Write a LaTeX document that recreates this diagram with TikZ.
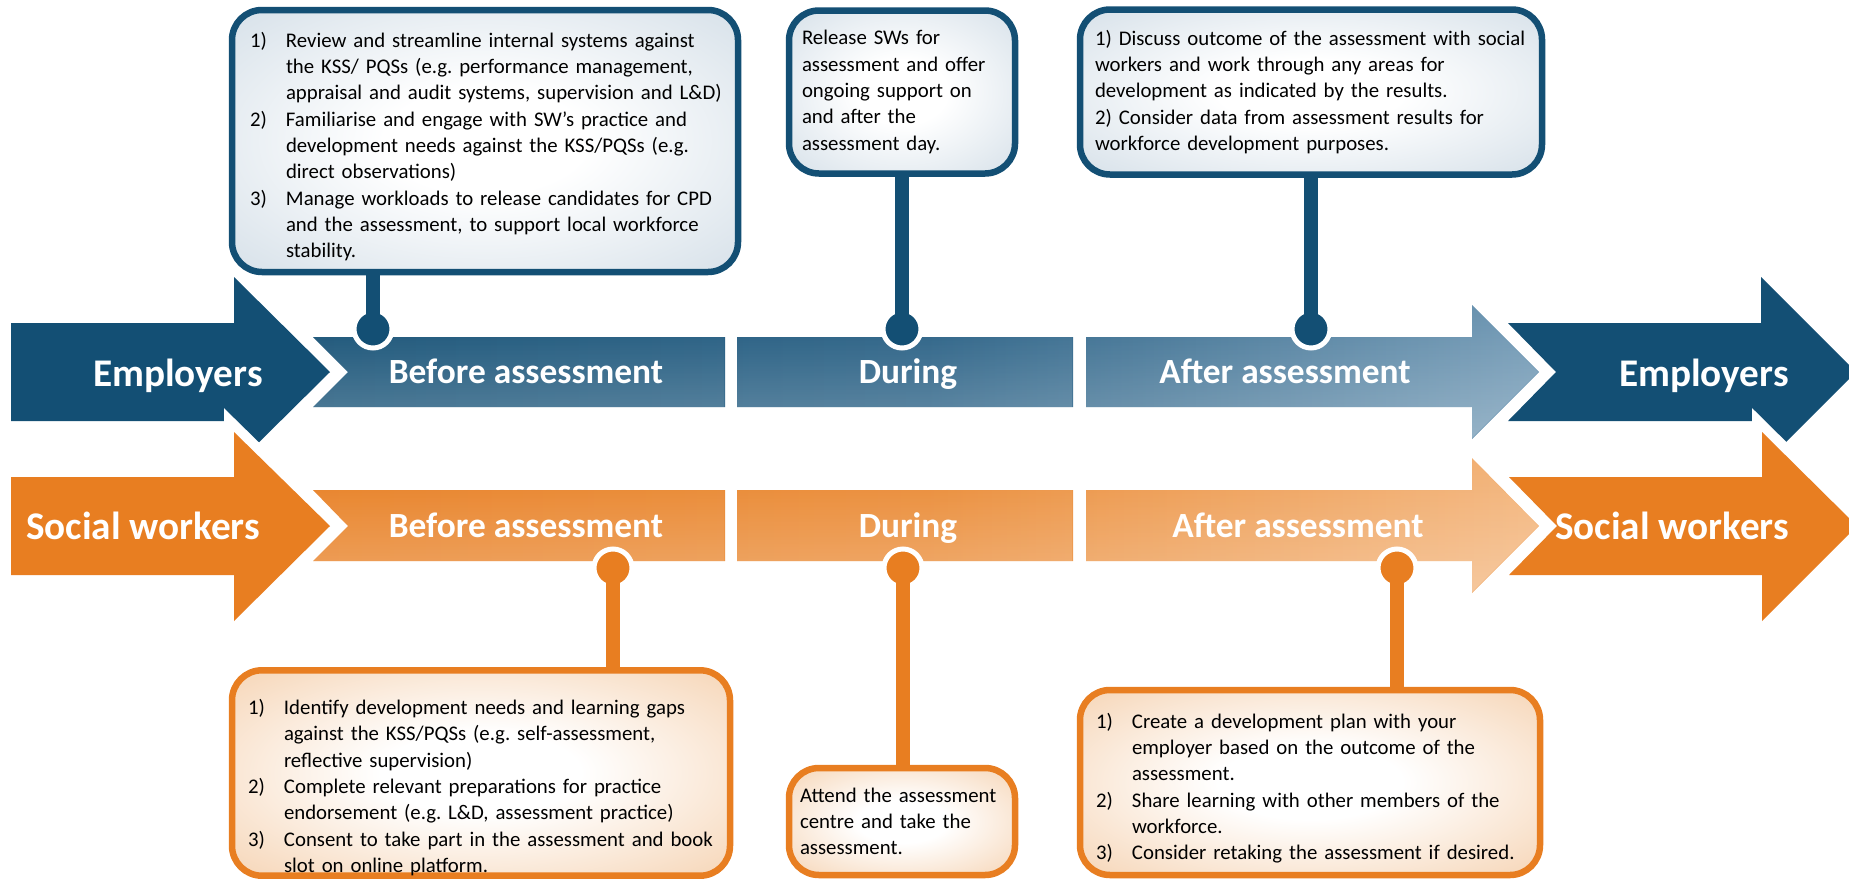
\documentclass[tikz,border=0pt]{standalone}
\usepackage{fontspec}
\setmainfont{Carlito}
\usetikzlibrary{positioning,fadings}

\definecolor{navy}{RGB}{19,79,116}
\definecolor{navymid}{RGB}{38,94,131}
\definecolor{navylight}{RGB}{112,152,180}
\definecolor{orng}{RGB}{232,126,33}
\definecolor{orngmid}{RGB}{234,138,52}
\definecolor{ornglight}{RGB}{243,180,122}
\definecolor{boxblue}{RGB}{192,208,221}
\definecolor{boxpeach}{RGB}{241,190,142}

\pgfdeclareradialshading{glowE}{\pgfpoint{0bp}{0bp}}{color(0bp)=(white); color(10bp)=(white); color(50bp)=(boxblue); color(75bp)=(boxblue)}
\pgfdeclareradialshading{glowS}{\pgfpoint{0bp}{0bp}}{color(0bp)=(white); color(10bp)=(white); color(50bp)=(boxpeach); color(75bp)=(boxpeach)}

\newdimen\px \px=0.5pt
\newcommand{\numitem}[2]{\par\noindent\hangindent=36\px\hangafter=1\makebox[36\px][l]{#1}#2\par}

\begin{document}
\frenchspacing\hyphenpenalty=10000
\begin{tikzpicture}[x=1\px, y=-1\px,
    arrowE/.style={fill=navy},
    arrowS/.style={fill=orng, preaction={draw=white, line width=20\px}},
    bandE/.style={left color=navy, right color=navylight, middle color=navymid,
        postaction={fill=white, fill opacity=0.3, path fading=north}},
    bandS/.style={left color=orng, right color=ornglight, middle color=orngmid,
        postaction={fill=white, fill opacity=0.3, path fading=north}},
    sidelabel/.style={anchor=base, text=white, font=\fontsize{19.6pt}{23pt}\selectfont\bfseries},
    bandlabel/.style={anchor=base, text=white, font=\fontsize{17.7pt}{21pt}\selectfont\bfseries},
    boxE/.style={draw=navy, line width=6.5\px, rounded corners=15pt, shade, shading=glowE,
        align=left, inner sep=0pt, font=\fontsize{10.4pt}{13.15pt}\selectfont,
        execute at begin node={\rightskip=0pt plus 1fil minus 15pt\relax}},
    boxS/.style={draw=orng, line width=6.5\px, rounded corners=15pt, shade, shading=glowS,
        align=left, inner sep=0pt, font=\fontsize{10.4pt}{13.15pt}\selectfont,
        execute at begin node={\rightskip=0pt plus 1fil minus 15pt\relax}},
    dotE/.style={circle, fill=navy, draw=white, line width=5\px, minimum size=38\px, inner sep=0pt},
    dotS/.style={circle, fill=orng, draw=white, line width=5\px, minimum size=38\px, inner sep=0pt},
    stemE/.style={draw=navy, line width=14.5\px},
    stemS/.style={draw=orng, line width=14.5\px}]
\useasboundingbox (0,0) rectangle (1849,879);
\clip (0,0) rectangle (1849,879);

% arrows on the left
\path[arrowE] (11,323) -- (234,323) -- (234,277) -- (330,372) -- (234,467) -- (234,421) -- (11,421) -- cycle;
\path[arrowS] (11,477) -- (234,477) -- (234,432) -- (330,526) -- (234,621) -- (234,575) -- (11,575) -- cycle;

% stages
\path[bandE] (313,337) -- (725,337) -- (725,407) -- (313,407) -- (348,372) -- cycle
    (737,337) rectangle (1073,407)
    (1086,337) -- (1472,337) -- (1472,305) -- (1539,372) -- (1472,439) -- (1472,407) -- (1086,407) -- cycle;
\path[bandS] (313,490) -- (725,490) -- (725,561) -- (313,561) -- (348,526) -- cycle
    (737,490) rectangle (1073,561)
    (1086,490) -- (1472,490) -- (1472,458) -- (1539,526) -- (1472,593) -- (1472,561) -- (1086,561) -- cycle;

% arrows on the right
\path[arrowE] (1508,323) -- (1761,323) -- (1761,277) -- (1856,372) -- (1761,467) -- (1761,421) -- (1508,421) -- (1556,372) -- cycle;
\path[arrowS] (1509,477) -- (1762,477) -- (1762,432) -- (1857,526) -- (1762,621) -- (1762,575) -- (1509,575) -- (1557,526) -- cycle;

\node[sidelabel] (empL) at (178,386) {Employers};
\node[sidelabel] (swL) at (143,539) {Social workers};
\node[sidelabel] (empR) at (1704,386) {Employers};
\node[sidelabel] (swR) at (1672,539) {Social workers};

\node[bandlabel] (befE) at (526,383) {Before assessment};
\node[bandlabel] (durE) at (908,383) {During};
\node[bandlabel] (aftE) at (1285,383) {After assessment};
\node[bandlabel] (befS) at (526,537) {Before assessment};
\node[bandlabel] (durS) at (908,537) {During};
\node[bandlabel] (aftS) at (1298,537) {After assessment};

% employer boxes
\node[boxE, minimum width=506\px, minimum height=262\px, text width=470\px] (befEbox) at (485,141) {%
  \numitem{1)}{Review and streamline internal systems against\newline the KSS/ PQSs (e.g. performance management,\newline appraisal and audit systems, supervision and L\&D)}
  \numitem{2)}{Familiarise and engage with SW’s practice and\newline development needs against the KSS/PQSs (e.g.\newline direct observations)}
  \numitem{3)}{Manage workloads to release candidates for CPD\newline and the assessment, to support local workforce\newline stability.}};
\node[boxE, minimum width=226\px, minimum height=163\px, text width=200\px] (durEbox) at (902,92) {%
  Release SWs for\newline assessment and offer\newline ongoing support on\newline and after the\newline assessment day.};
\node[boxE, minimum width=462\px, minimum height=165\px, text width=432\px] (aftEbox) at (1311,92) {%
  1) Discuss outcome of the assessment with social\newline workers and work through any areas for\newline development as indicated by the results.\newline
  2) Consider data from assessment results for\newline workforce development purposes.};

% social worker boxes
\node[boxS, minimum width=498\px, minimum height=204\px, text width=466\px] (befSbox) at (481,773) {%
  \vspace*{18\px}
  \numitem{1)}{Identify development needs and learning gaps\newline against the KSS/PQSs (e.g. self-assessment,\newline reflective supervision)}
  \numitem{2)}{Complete relevant preparations for practice\newline endorsement (e.g. L\&D, assessment practice)}
  \numitem{3)}{Consent to take part in the assessment and book\newline slot on online platform.}};
\node[boxS, minimum width=226\px, minimum height=107\px, text width=204\px] (durSbox) at (902,821.5) {%
  Attend the assessment\newline centre and take the\newline assessment.};
\node[boxS, minimum width=460\px, minimum height=185\px, text width=428\px] (aftSbox) at (1310,782.5) {%
  \numitem{1)}{Create a development plan with your\newline employer based on the outcome of the\newline assessment.}
  \numitem{2)}{Share learning with other members of the\newline workforce.}
  \numitem{3)}{Consider retaking the assessment if desired.}};

% pins
\node[dotE] (befEdot) at (373,329) {};
\node[dotE] (durEdot) at (902,329) {};
\node[dotE] (aftEdot) at (1311,329) {};
\draw[stemE] (befEdot.center) -- (befEdot.center |- befEbox.south);
\draw[stemE] (durEdot.center) -- (durEdot.center |- durEbox.south);
\draw[stemE] (aftEdot.center) -- (aftEdot.center |- aftEbox.south);

\node[dotS] (befSdot) at (613,568) {};
\node[dotS] (durSdot) at (903,568) {};
\node[dotS] (aftSdot) at (1397,568) {};
\draw[stemS] (befSdot.center) -- (befSdot.center |- befSbox.north);
\draw[stemS] (durSdot.center) -- (durSdot.center |- durSbox.north);
\draw[stemS] (aftSdot.center) -- (aftSdot.center |- aftSbox.north);
\end{tikzpicture}
\end{document}
